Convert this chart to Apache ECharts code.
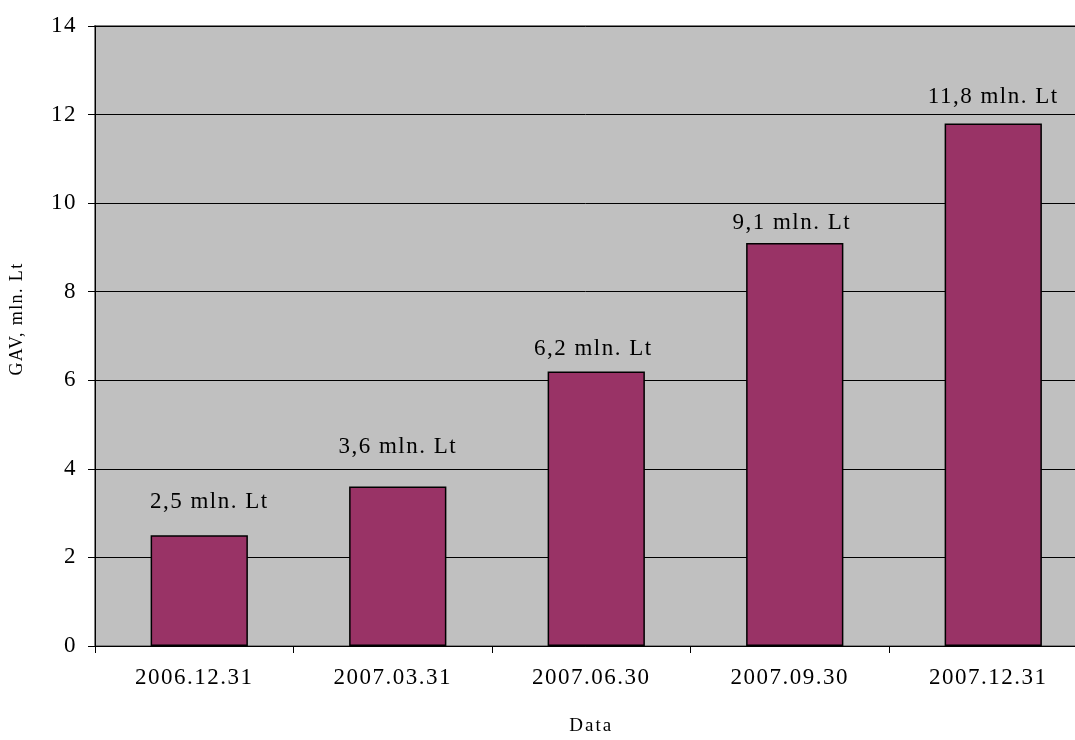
<!DOCTYPE html>
<html><head><meta charset="utf-8">
<script src="https://cdn.jsdelivr.net/npm/echarts@6/dist/echarts.min.js"></script>
<style>html,body{margin:0;padding:0;background:#fff}#c{width:1075px;height:740px}</style>
</head><body><div id="c"></div>
<script>
const categories = ['2006.12.31','2007.03.31','2007.06.30','2007.09.30','2007.12.31'];
const values = [2.5, 3.6, 6.2, 9.1, 11.8];
const labels = ['2,5 mln. Lt','3,6 mln. Lt','6,2 mln. Lt','9,1 mln. Lt','11,8 mln. Lt'];
const yName = 'GAV, mln. Lt';
const xName = 'Data';
// hand-placed label nudges seen in the original (layout only)
const labelNudges = [[10, -6], [0, -12], [-3, 5], [-3, 7], [0, 1]];

// Emulate the slightly spaced-out type of the original
(function(){
  const P = CanvasRenderingContext2D.prototype;
  const orig = P.fillText;
  P.fillText = function(){
    if ('letterSpacing' in this) {
      const f = this.font;
      this.letterSpacing = /\b23px/.test(f) ? '1.5px' : (/\b19px/.test(f) ? '2px' : (/\b18px/.test(f) ? '1.4px' : '0px'));
    }
    const r = orig.apply(this, arguments);
    if ('letterSpacing' in this) this.letterSpacing = '0px';
    return r;
  };
})();

const font = '"Liberation Serif", "Times New Roman", serif';
const gridTop = 26, gridH = 620, gridW = 992.5;
const chart = echarts.init(document.getElementById('c'));
chart.setOption({
  animation: false,
  backgroundColor: '#fff',
  grid: [
    { left: 95, top: gridTop, width: gridW, height: gridH, show: true, backgroundColor: '#C0C0C0', borderColor: '#808080', borderWidth: 2, containLabel: false, outerBoundsMode: 'none' },
    { left: 100, top: gridTop, width: gridW, height: gridH, show: false, containLabel: false, outerBoundsMode: 'none' }
  ],
  xAxis: [{
    gridIndex: 0, type: 'category', data: categories,
    name: xName, nameLocation: 'middle', nameGap: 71,
    nameTextStyle: { fontFamily: font, fontSize: 19, color: '#000' },
    axisLine: { lineStyle: { color: '#000', width: 1 } },
    axisTick: { show: true, length: 7, lineStyle: { color: '#000' } },
    axisLabel: { interval: 0, fontFamily: font, fontSize: 23, color: '#000', margin: 20 },
    splitLine: { show: false }
  }, {
    gridIndex: 1, type: 'category', data: categories, show: false
  }],
  yAxis: [{
    gridIndex: 0, type: 'value', min: 0, max: 14, interval: 2,
    name: yName, nameLocation: 'middle', nameGap: 69, nameRotate: 90,
    nameTextStyle: { fontFamily: font, fontSize: 18, color: '#000', padding: [0, 0, 0, 34] },
    axisLine: { show: true, lineStyle: { color: '#000', width: 1 } },
    axisTick: { show: true, length: 7, lineStyle: { color: '#000' } },
    axisLabel: { fontFamily: font, fontSize: 23, color: '#000', margin: 18 },
    splitLine: { show: true, lineStyle: { color: '#000', width: 1 } }
  }, {
    gridIndex: 1, type: 'value', min: 0, max: 14, interval: 2, show: false, splitLine: { show: false }
  }],
  series: [{
    type: 'bar', xAxisIndex: 1, yAxisIndex: 1, barWidth: '49%',
    data: values.map((v, i) => ({ value: v, label: { offset: labelNudges[i] } })),
    itemStyle: { color: '#993366', borderColor: '#000', borderWidth: 1.5 },
    label: { show: true, position: 'top', distance: 16,
      formatter: p => labels[p.dataIndex],
      fontFamily: font, fontSize: 23, color: '#000' }
  }]
});
</script></body></html>
